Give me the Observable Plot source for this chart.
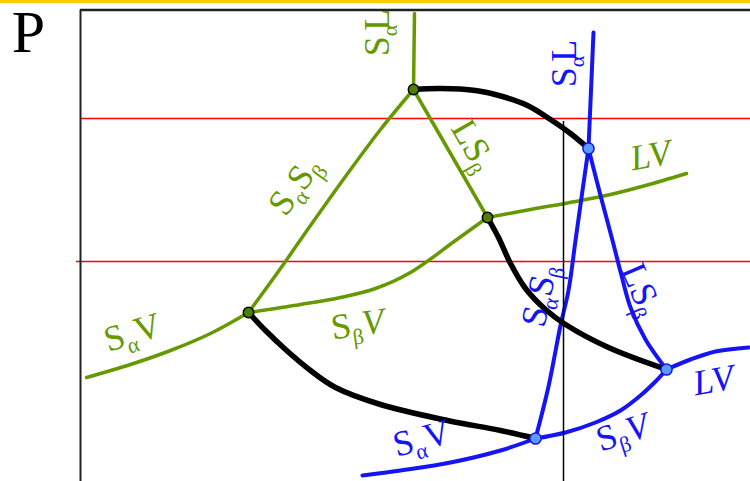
<!DOCTYPE html>
<html><head><meta charset="utf-8">
<script src="https://cdn.jsdelivr.net/npm/d3@7"></script>
<script src="https://cdn.jsdelivr.net/npm/@observablehq/plot@0.6"></script>
<style>html,body{margin:0;padding:0;background:#fff;} #chart svg{display:block;}</style>
</head><body><div id="chart"></div>
<script>
// Values: T (horizontal, temperature-like), P (vertical, pressure)
const greenSaL = [[413,392],[414,468]];
const greenSaSb = [[248,169],[280,213],[310,256],[345,305],[380,352],[413,392]];
const greenLSb = [[413,392],[487,264]];
const greenSbV = [[248,169],[300,177],[340,184],[375,193],[410,209],[455,241],[487,264]];
const greenLV = [[487,264],[530,272],[575,280],[610,287],[645,296],[686,308]];
const greenSaV = [[86,104],[130,117],[170,131],[210,148],[248,169]];

const blueSaL = [[593,449],[588,333]];
const blueSaSb = [[588,333],[582,291],[575,241],[568,191],[560,156],[548,95],[535,43]];
const blueLSb = [[588,333],[600,286],[612,241],[621,206],[630,174],[645,142],[666,112]];
const blueLV = [[666,112],[690,122],[715,130],[748,134]];
const blueSbV = [[535,43],[565,49],[595,59],[620,71],[640,86],[655,100],[666,112]];
const blueSaV = [[362,6],[400,11],[450,19],[500,31],[535,43]];

const triplePath1 = [[413,392],[440,393],[475,391],[502,385],[527,376],[550,362],[570,348],[588,333]];
const triplePath2 = [[487,264],[498,244],[510,218],[525,193],[545,172],[565,157],[608,134],[666,112]];
const triplePath3 = [[248,169],[265,151],[285,132],[310,111],[335,94],[380,77],[447,61],[500,51],[535,43]];

const greenNodes = [[413,392],[487,264],[248,169]];
const blueNodes = [[588,333],[666,112],[535,43]];

const isobars = [{P:363, from:80}, {P:220, from:76}];
const isotherm = [{T:563, top:360}];
const frameLeft = [{T:80, top:471.5}];
const frameTop = [{P:471.5, from:80, to:750}];

const axisLabel = [{T:28, P:449, text:"P"}];
const greenLabels = [
  {T:377, P:449, rotate:-90, text:"S_α<L"},
  {T:294, P:296, rotate:-54, text:"S_αS_β"},
  {T:473, P:336, rotate:60,  text:"LS_β"},
  {T:650, P:326, rotate:-10, text:"~L~V"},
  {T:132, P:149, rotate:-17, text:"S_αV"},
  {T:357, P:157, rotate:-8,  text:"S_β~V"}
];
const blueLabels = [
  {T:564, P:418, rotate:-90, text:"S_α<L"},
  {T:539, P:186, rotate:-78, text:"S_αS_β"},
  {T:641, P:192, rotate:67,  text:"LS_β"},
  {T:713, P:101, rotate:-10, text:"~L~V"},
  {T:421, P:43,  rotate:-15, text:"S_αV"},
  {T:622, P:49,  rotate:-18, text:"S_β~V"}
];

const GREEN = "#669900", BLUE = "#1414f5", RED = "#ff0000";
const serif = "Liberation Serif, Times New Roman, serif";
const cr = "catmull-rom";

const gl = (d, curve) => Plot.line(d, {stroke: GREEN, strokeWidth: 3.5, curve: curve || "linear"});
const bl = (d, curve) => Plot.line(d, {stroke: BLUE, strokeWidth: 4, curve: curve || "linear"});
const kl = (d) => Plot.line(d, {stroke: "#000", strokeWidth: 5.5, curve: cr, strokeLinecap: "butt"});

const svg = Plot.plot({
  width: 750, height: 481, margin: 0,
  style: "background: linear-gradient(#ffcc00 0 3px, #ffffff 3px); font-family: " + serif,
  x: {domain: [0, 750], axis: null},
  y: {domain: [0, 481], axis: null},
  marks: [
    Plot.ruleY(isobars, {y: "P", x1: "from", x2: 750, stroke: RED, strokeWidth: 1.6}),
    Plot.ruleX(frameLeft, {x: "T", y1: 0, y2: "top", stroke: "#222", strokeWidth: 2}),
    Plot.ruleY(frameTop, {y: "P", x1: "from", x2: "to", stroke: "#222", strokeWidth: 2.5}),
    gl(greenSaL), gl(greenSaSb, cr), gl(greenLSb), gl(greenSbV, cr), gl(greenLV, cr), gl(greenSaV, cr),
    bl(blueSaL), bl(blueSaSb, cr), bl(blueLSb, cr), bl(blueLV, cr), bl(blueSbV, cr), bl(blueSaV, cr),
    Plot.ruleX(isotherm, {x: "T", y1: 0, y2: "top", stroke: "#000", strokeWidth: 1.5}),
    kl(triplePath1), kl(triplePath2), kl(triplePath3),
    Plot.dot(greenNodes, {r: 5.2, fill: "#4f7f00", stroke: "#000", strokeWidth: 1.5}),
    Plot.dot(blueNodes, {r: 5.6, fill: "#5b9bff", stroke: BLUE, strokeWidth: 1.5}),
    Plot.text(axisLabel, {x: "T", y: "P", text: "text", fontSize: 60, fontFamily: serif, fill: "#000"}),
    Plot.text(greenLabels, {x: "T", y: "P", text: "text", rotate: "rotate", fontSize: 36, fontFamily: serif, fill: GREEN}),
    Plot.text(blueLabels, {x: "T", y: "P", text: "text", rotate: "rotate", fontSize: 36, fontFamily: serif, fill: BLUE})
  ]
});

// turn the markup (_ = subscript, ~ = italic, < = tuck back) into real tspans
d3.select(svg).selectAll("text").each(function () {
  const s = this.textContent;
  if (!/[_~<]/.test(s)) return;
  const el = d3.select(this);
  el.text(null);
  let shift = 0;
  for (let i = 0; i < s.length; i++) {
    let c = s[i], sub = false, ital = false, kern = 0;
    while (c === "_" || c === "~" || c === "<") {
      if (c === "_") sub = true; else if (c === "~") ital = true; else kern = -6;
      c = s[++i];
    }
    const t = el.append("tspan").text(c);
    const target = sub ? 8 : 0;
    if (target !== shift) { t.attr("dy", target - shift); shift = target; }
    if (sub) t.attr("font-size", 22);
    if (ital) t.attr("font-style", "italic");
    if (kern) t.attr("dx", kern);
  }
});

document.getElementById("chart").appendChild(svg);
</script>
</body></html>
